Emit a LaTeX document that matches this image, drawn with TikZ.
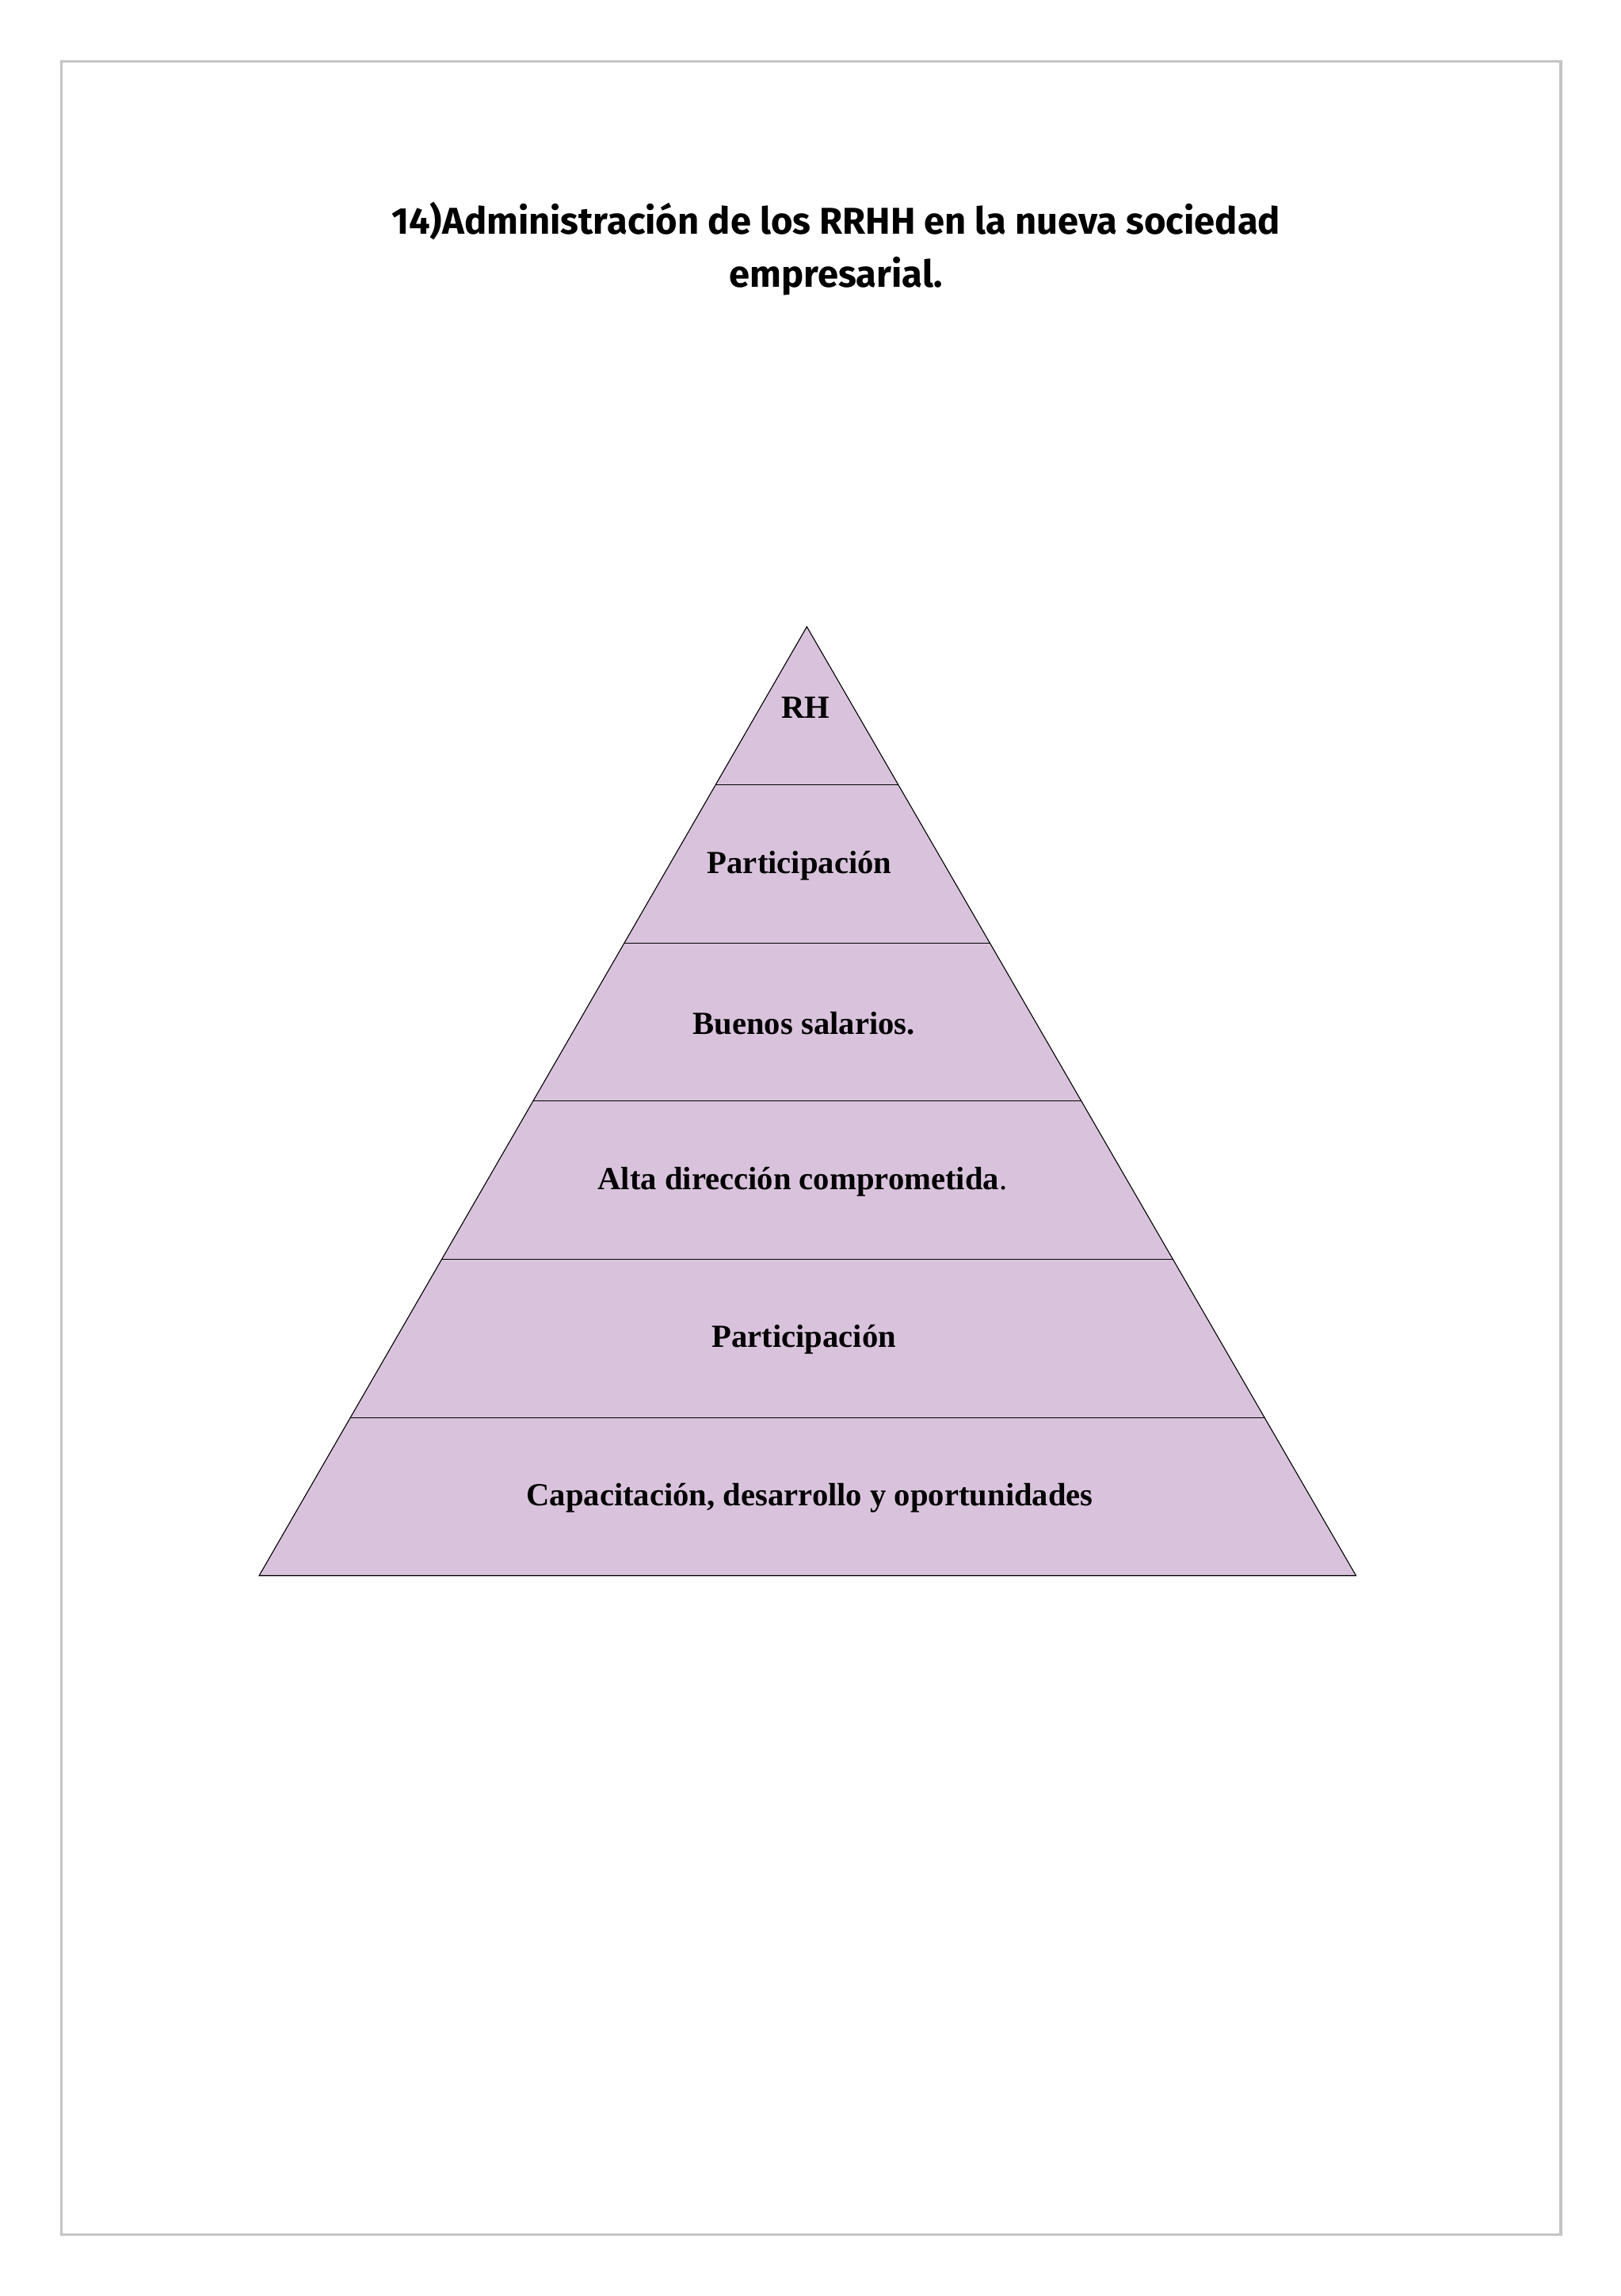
\documentclass[tikz,border=0pt]{standalone}
\usepackage{fontspec}
\setmainfont{Liberation Serif}
\newfontfamily\titlefont{Fira Sans}
\definecolor{lev}{HTML}{D9C3DC}
\definecolor{frame}{HTML}{C4C4C4}
\tikzset{lab/.style={font=\bfseries\fontsize{22}{26}\selectfont, text=black},
 ttl/.style={font=\titlefont\bfseries\fontsize{25.5}{36}\selectfont, align=center}}
\begin{document}
\begin{tikzpicture}[x=1pt,y=-1pt]
\useasboundingbox (0,0) rectangle (1107,1568);
\fill[white] (0,0) rectangle (1107,1568);
\draw[frame, line width=2pt] (42,42) rectangle (1066,1526);
\node[ttl] (title) at (571,170) {14)Administración de los RRHH en la nueva sociedad\\empresarial.};
\coordinate (apex) at (551,428);
\coordinate (bl) at (177,1076);
\coordinate (br) at (926,1076);
\fill[lev] (apex) -- (bl) -- (br) -- cycle;
\begin{scope}
\clip (apex) -- (bl) -- (br) -- cycle;
\foreach \y in {536,644,752,860,968} \draw[line width=0.6pt] (100,\y) -- (1000,\y);
\end{scope}
\draw[line width=0.6pt] (apex) -- (bl) -- (br) -- cycle;
\node[lab] (l1) at (550,483) {RH};
\node[lab] (l2) at (546,591) {Participación};
\node[lab] (l3) at (549,699) {Buenos salarios.};
\node[lab] (l4) at (548,807) {Alta dirección comprometida\textmd{.}};
\node[lab] (l5) at (549,915) {Participación};
\node[lab] (l6) at (553,1023) {Capacitación, desarrollo y oportunidades};
\end{tikzpicture}
\end{document}
